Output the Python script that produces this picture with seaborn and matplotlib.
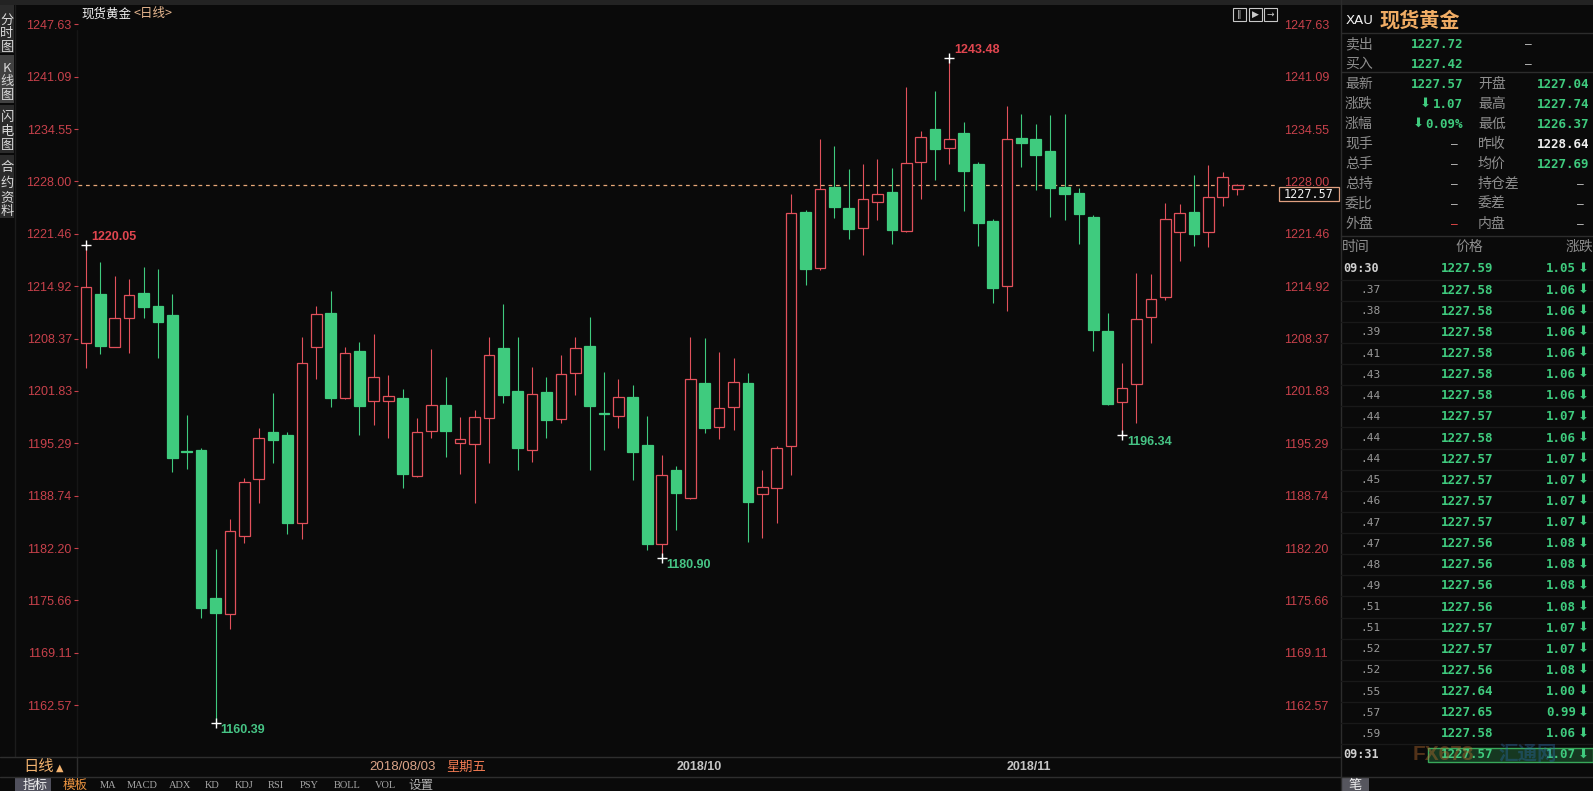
import numpy as np
import pandas as pd
import seaborn as sns
import matplotlib.pyplot as plt
from matplotlib.patches import Rectangle

# daily candles (oldest first)
open_ = [1207.77, 1213.94, 1207.36, 1210.90, 1214.02, 1212.40, 1211.27, 1194.30, 1194.44, 1175.90,
         1174.02, 1183.69, 1190.82, 1196.69, 1196.32, 1185.36, 1207.27, 1211.52, 1200.90, 1206.81,
         1200.57, 1200.57, 1200.90, 1191.23, 1196.86, 1200.07, 1195.27, 1195.15, 1198.40, 1207.15,
         1201.82, 1194.40, 1201.69, 1198.27, 1204.02, 1207.44, 1199.05, 1198.73, 1201.02, 1195.07,
         1182.65, 1191.90, 1188.40, 1202.77, 1197.27, 1199.77, 1202.77, 1188.90, 1189.65, 1194.94,
         1224.22, 1217.14, 1227.35, 1224.64, 1222.14, 1225.47, 1226.64, 1221.81, 1230.47, 1234.51,
         1232.14, 1234.01, 1230.14, 1223.01, 1214.97, 1233.39, 1233.26, 1231.81, 1227.36, 1226.61,
         1223.61, 1209.36, 1200.48, 1202.65, 1211.10, 1213.52, 1221.73, 1224.15, 1221.73, 1226.02,
         1227.04]
high = [1220.05, 1217.98, 1216.19, 1215.77, 1217.36, 1217.07, 1213.94, 1198.82, 1194.65, 1182.02,
        1185.77, 1190.98, 1197.23, 1201.52, 1196.69, 1208.52, 1212.44, 1214.36, 1207.27, 1207.94,
        1208.94, 1203.82, 1202.07, 1198.40, 1207.07, 1203.52, 1198.61, 1199.44, 1208.61, 1212.69,
        1208.52, 1204.86, 1203.52, 1206.31, 1208.61, 1211.11, 1204.23, 1203.32, 1202.57, 1198.69,
        1193.82, 1192.44, 1208.52, 1208.40, 1206.73, 1205.98, 1204.11, 1191.94, 1194.94, 1226.43,
        1224.43, 1233.31, 1232.43, 1229.51, 1230.18, 1230.81, 1229.64, 1239.85, 1234.35, 1239.35,
        1243.48, 1235.47, 1230.47, 1223.26, 1237.43, 1236.43, 1235.18, 1236.30, 1236.40, 1227.15,
        1223.82, 1211.61, 1205.27, 1216.52, 1216.44, 1225.27, 1225.19, 1228.81, 1230.06, 1229.23,
        1227.74]
low = [1204.65, 1206.40, 1207.27, 1206.61, 1210.90, 1205.90, 1191.73, 1192.02, 1173.40, 1160.39,
       1172.07, 1182.86, 1187.86, 1192.77, 1183.94, 1183.27, 1203.32, 1199.77, 1200.80, 1196.32,
       1197.57, 1195.90, 1189.73, 1191.02, 1195.90, 1193.52, 1191.44, 1187.86, 1192.86, 1200.36,
       1191.94, 1192.98, 1195.90, 1197.77, 1201.32, 1191.94, 1194.44, 1197.23, 1190.69, 1181.94,
       1180.90, 1184.44, 1188.27, 1196.61, 1195.77, 1196.94, 1182.98, 1183.40, 1185.36, 1191.32,
       1215.06, 1217.00, 1223.39, 1220.76, 1218.80, 1223.18, 1220.18, 1221.70, 1225.76, 1228.18,
       1230.18, 1224.35, 1219.93, 1212.80, 1211.80, 1229.85, 1226.93, 1223.61, 1223.19, 1220.19,
       1206.86, 1200.10, 1196.34, 1197.77, 1207.86, 1213.19, 1218.11, 1219.94, 1219.86, 1224.94,
       1226.37]
close = [1214.86, 1207.48, 1210.90, 1213.77, 1212.36, 1210.48, 1193.48, 1194.20, 1174.73, 1174.11,
         1184.31, 1190.40, 1195.90, 1195.69, 1185.36, 1205.27, 1211.44, 1200.90, 1206.52, 1199.98,
         1203.52, 1201.19, 1191.40, 1196.73, 1200.07, 1196.86, 1195.77, 1198.52, 1206.27, 1201.32,
         1194.73, 1201.40, 1198.19, 1203.90, 1207.15, 1199.98, 1199.00, 1201.11, 1194.23, 1182.69,
         1191.27, 1189.02, 1203.27, 1197.23, 1199.65, 1202.90, 1187.98, 1189.77, 1194.65, 1224.01,
         1217.01, 1227.01, 1224.85, 1222.10, 1225.76, 1226.39, 1221.93, 1230.26, 1233.60, 1232.10,
         1233.35, 1229.35, 1222.85, 1214.72, 1233.26, 1232.85, 1231.31, 1227.15, 1226.40, 1223.94,
         1209.44, 1200.19, 1202.15, 1210.77, 1213.27, 1223.27, 1224.11, 1221.48, 1226.02, 1228.52,
         1227.57]

y_ticks = [1247.63, 1241.09, 1234.55, 1228.00, 1221.46, 1214.92, 1208.37,
           1201.83, 1195.29, 1188.74, 1182.20, 1175.66, 1169.11, 1162.57]
last_price = 1227.57
mark_idx = [0, 60, 9, 40, 72]
mark_kind = ['high', 'high', 'low', 'low', 'low']

# quote panel
book_labels = ['卖出', '买入']
book_values = ['1227.72', '1227.42']
left_labels = ['最新', '涨跌', '涨幅', '现手', '总手', '总持', '委比', '外盘']
left_values = ['1227.57', '⬇1.07', '⬇0.09%', '—', '—', '—', '—', '—']
right_labels = ['开盘', '最高', '最低', '昨收', '均价', '持仓差', '委差', '内盘']
right_values = ['1227.04', '1227.74', '1226.37', '1228.64', '1227.69', '—', '—', '—']

tick_times = ['09:30', '.37', '.38', '.39', '.41', '.43', '.44', '.44', '.44', '.44', '.45', '.46',
              '.47', '.47', '.48', '.49', '.51', '.51', '.52', '.52', '.55', '.57', '.59', '09:31']
tick_prices = ['1227.59', '1227.58', '1227.58', '1227.58', '1227.58', '1227.58', '1227.58', '1227.57',
               '1227.58', '1227.57', '1227.57', '1227.57', '1227.57', '1227.56', '1227.56', '1227.56',
               '1227.56', '1227.57', '1227.57', '1227.56', '1227.64', '1227.65', '1227.58', '1227.57']
tick_changes = ['1.05', '1.06', '1.06', '1.06', '1.06', '1.06', '1.06', '1.07', '1.06', '1.07', '1.07',
                '1.07', '1.07', '1.08', '1.08', '1.08', '1.08', '1.07', '1.07', '1.08', '1.00', '0.99',
                '1.06', '1.07']

toolbar = ['指标', '模板', 'MA', 'MACD', 'ADX', 'KD', 'KDJ', 'RSI', 'PSY', 'BOLL', 'VOL', '设置']
toolbar_x = [35, 75, 108, 142, 180, 212, 244, 276, 309, 347, 385, 421]

bg = '#0a0a0a'
up = '#e2515b'
down = '#3fcb7e'
axis_red = '#c8414b'
grey = '#8e8e8e'

sns.set_theme(style='dark', rc={'axes.facecolor': bg, 'figure.facecolor': bg})
plt.rcParams['font.family'] = ['Liberation Sans', 'Noto Sans CJK SC', 'DejaVu Sans']
mono = ['DejaVu Sans Mono', 'DejaVu Sans']
cjk = ['Noto Sans CJK SC', 'DejaVu Sans']

W, H = 1593, 791
fig = plt.figure(figsize=(W / 100, H / 100), dpi=100)

# pixel overlay for the terminal chrome
ov = fig.add_axes([0, 0, 1, 1])
ov.set_xlim(0, W)
ov.set_ylim(H, 0)
ov.axis('off')
ov.set_zorder(1)


def rect(x0, y0, x1, y1, **kw):
    ov.add_patch(Rectangle((x0, y0), x1 - x0, y1 - y0, **kw))


def txt(x, y, s, **kw):
    kw.setdefault('va', 'center')
    ov.text(x, y, s, **kw)


def arrow(x, y):
    txt(x, y, '⬇', ha='center', color=down, fontsize=9.5, family=['DejaVu Sans'])


rect(0, 0, W, 5, color='#232323', lw=0)
# left sidebar tabs
tabs = [(5, 53, '#2b2b2b', '分时图', [20, 34, 48]), (55, 103, '#414141', 'K线图', [68, 82, 96]),
        (105, 153, '#2b2b2b', '闪电图', [117, 131, 145]), (155, 218, '#2b2b2b', '合约资料', [168, 183, 198, 212])]
for y0, y1, c, label, ys in tabs:
    rect(0, y0, 14, y1, color=c, lw=0)
    for ch, yy in zip(label, ys):
        txt(7, yy, ch, ha='center', color='#d8d8d8', fontsize=9.5, family=cjk)
ov.plot([15, 15], [5, 757], color='#1c1c1c', lw=1)
ov.plot([77, 77], [30, 757], color='#161616', lw=1)

txt(81, 14, '现货黄金', color='#f0f0f0', fontsize=9, family=cjk)
txt(133, 14, '<日线>', color='#e8b890', fontsize=9, family=cjk)

# small toolbar icons top right
for x0, g in zip([1233, 1249, 1264], ['‖', '▶', '→']):
    rect(x0, 8, x0 + 13, 21, fill=False, ec='#c8c8c8', lw=0.8)
    txt(x0 + 6.5, 14.5, g, ha='center', color='#c8c8c8', fontsize=6.5, family=['DejaVu Sans'])

# bottom date strip and toolbar
ov.plot([0, 1340], [757, 757], color='#2e2e2e', lw=1)
ov.plot([0, W], [777, 777], color='#2e2e2e', lw=1)
ov.plot([77, 77], [757, 777], color='#2e2e2e', lw=1)
txt(23, 767, '日线', color='#f2b26e', fontsize=11, family=cjk)
txt(56, 768, '▲', color='#f2b26e', fontsize=7, family=['DejaVu Sans'])
txt(369, 767, '2018/08/03', color='#dca488', fontsize=9.5)
txt(446, 767, '星期五', color='#f07a52', fontsize=9.5, family=cjk)
txt(699, 767, '2018/10', ha='center', color='#c6c6c6', fontsize=9, fontweight='bold')
txt(1029, 767, '2018/11', ha='center', color='#c6c6c6', fontsize=9, fontweight='bold')
rect(15, 778, 51, 791, color='#50505c', lw=0)
for name, x in zip(toolbar, toolbar_x):
    if name == '指标':
        txt(x, 785, name, ha='center', color='#f0f0f0', fontsize=9, family=cjk)
    elif name == '模板':
        txt(x, 785, name, ha='center', color='#ec9440', fontsize=9, family=cjk)
    elif name == '设置':
        txt(x, 785, name, ha='center', color='#b0b0b0', fontsize=9, family=cjk)
    else:
        txt(x, 785, name, ha='center', color='#a8a8a8', fontsize=7.5, family=['Liberation Serif'])

# right quote panel
ov.plot([1341, 1341], [0, H], color='#2c2c2c', lw=1)
txt(1346, 20, 'XAU', color='#f0f0f0', fontsize=9.5, family=['DejaVu Sans'])
txt(1379, 20, '现货黄金', color='#f0ac64', fontsize=14.5, fontweight='bold', family=cjk)
for yy in [33, 72, 236]:
    ov.plot([1341, W], [yy, yy], color='#2c2c2c', lw=1)
for i, (lab, val) in enumerate(zip(book_labels, book_values)):
    yy = 44 + 20 * i
    txt(1345, yy, lab, color=grey, fontsize=10, family=cjk)
    txt(1463, yy, val, ha='right', color=down, fontsize=9, fontweight='bold', family=mono)
    txt(1528, yy, '—', ha='center', color='#d0d0d0', fontsize=8, family=mono)
for i in range(len(left_labels)):
    yy = 84 + 20 * i
    txt(1345, yy, left_labels[i], color=grey, fontsize=10, family=cjk)
    txt(1478, yy, right_labels[i], color=grey, fontsize=10, family=cjk)
    lv = left_values[i]
    if lv == '—':
        txt(1454, yy, lv, ha='center', color='#ff5050' if left_labels[i] == '外盘' else '#d0d0d0',
            fontsize=8, family=mono)
    elif lv.startswith('⬇'):
        num = lv[1:]
        txt(1463, yy, num, ha='right', color=down, fontsize=9, fontweight='bold', family=mono)
        arrow(1463 - 7.6 * len(num) - 7, yy - 1)
    else:
        txt(1463, yy, lv, ha='right', color=down, fontsize=9, fontweight='bold', family=mono)
    rv = right_values[i]
    if rv == '—':
        txt(1580, yy, rv, ha='center', color='#d0d0d0', fontsize=8, family=mono)
    else:
        txt(1589, yy, rv, ha='right', color='#f0f0f0' if right_labels[i] == '昨收' else down,
            fontsize=9, fontweight='bold', family=mono)

txt(1342, 247, '时间', color=grey, fontsize=10, family=cjk)
txt(1469, 247, '价格', ha='center', color=grey, fontsize=10, family=cjk)
txt(1566, 247, '涨跌', color=grey, fontsize=10, family=cjk)
for i, (t, p, c) in enumerate(zip(tick_times, tick_prices, tick_changes)):
    yy = 269 + 21.13 * i
    if i < len(tick_times) - 1:
        ov.plot([1341, W], [yy + 10.5, yy + 10.5], color='#191919', lw=1)
    if ':' in t:
        txt(1343, yy, t, color='#d0d0d0', fontsize=8.5, fontweight='bold', family=mono)
    else:
        txt(1360, yy, t, color='#9a9a9a', fontsize=8, family=mono)
    txt(1467, yy, p, ha='center', color=down, fontsize=9, fontweight='bold', family=mono)
    txt(1576, yy, c, ha='right', color=down, fontsize=9, fontweight='bold', family=mono)
    arrow(1583, yy - 1)
rect(1428, 748, 1593, 762, fc='#2f8f4c', alpha=0.35, ec='none')
rect(1428, 748, 1593, 762, fill=False, ec='#39a85a', lw=1)
txt(1413, 755, 'FX678', color='#c07030', fontsize=15, fontweight='bold', alpha=0.4)
txt(1498, 755, '汇通网', color='#2a6aa8', fontsize=14, fontweight='bold', alpha=0.4, family=cjk)
rect(1342, 777, 1369, 791, color='#56565e', lw=0)
txt(1355, 785, '笔', ha='center', color='#f0f0f0', fontsize=9.5, family=cjk)

# price marker box on the right axis
rect(1279, 187, 1339, 201, fc=bg, ec='#e0a080', lw=0.9)
txt(1309, 194, f'{last_price:.2f}', ha='center', color='#f0f0f0', fontsize=8.5, family=mono)

# candlestick axes
ax = fig.add_axes([78 / W, 34 / H, 1200 / W, 749 / H])
ax.set_zorder(2)
ax.patch.set_alpha(0)
ax.grid(False)
for s in ax.spines.values():
    s.set_visible(False)

df = pd.DataFrame({'open': open_, 'high': high, 'low': low, 'close': close})
df['x'] = np.arange(len(df))
df['rise'] = df['close'] >= df['open']
df['color'] = np.where(df['rise'], up, down)
df['bottom'] = df[['open', 'close']].min(axis=1)
df['height'] = (df['close'] - df['open']).abs().clip(lower=0.1)

ax.vlines(df['x'], df['low'], df['high'], colors=df['color'], lw=0.8, zorder=2)
ax.bar(df['x'], df['height'], bottom=df['bottom'], width=0.74,
       color=np.where(df['rise'], bg, down), edgecolor=df['color'], linewidth=0.9, zorder=3)

ax.axhline(last_price, color='#e8a878', lw=0.9, dashes=(3, 3), zorder=1)

marks = pd.DataFrame({'x': mark_idx, 'kind': mark_kind})
marks['y'] = [high[i] if k == 'high' else low[i] for i, k in zip(mark_idx, mark_kind)]
sns.scatterplot(data=marks, x='x', y='y', marker='+', color='white', s=45, linewidth=1,
                ax=ax, zorder=5, legend=False)
for _, r in marks.iterrows():
    is_hi = r['kind'] == 'high'
    ax.annotate(f"{r['y']:.2f}", (r['x'], r['y']), xytext=(5, 8 if is_hi else -7),
                textcoords='offset pixels', va='center', ha='left', fontsize=9, fontweight='bold',
                color='#e0464f' if is_hi else '#46c485', zorder=6)

ax.set_xlim((78 - 86) / 14.39, (1278 - 86) / 14.39)
ax.set_ylim(1247.63 - (757 - 24.4) / 8.003, 1247.63 + 16.4 / 8.003)
ax.set_xticks([])
ax.set_yticks(y_ticks)
ax.set_yticklabels([f'{v:.2f}' for v in y_ticks])
ax.tick_params(axis='y', left=True, right=False, labelleft=True, labelright=True,
               length=3, width=0.8, color=axis_red, labelcolor=axis_red, labelsize=9, pad=1.5)
ax.set_xlabel('')
ax.set_ylabel('')

fig.savefig('out.png', dpi=100, facecolor=bg)
